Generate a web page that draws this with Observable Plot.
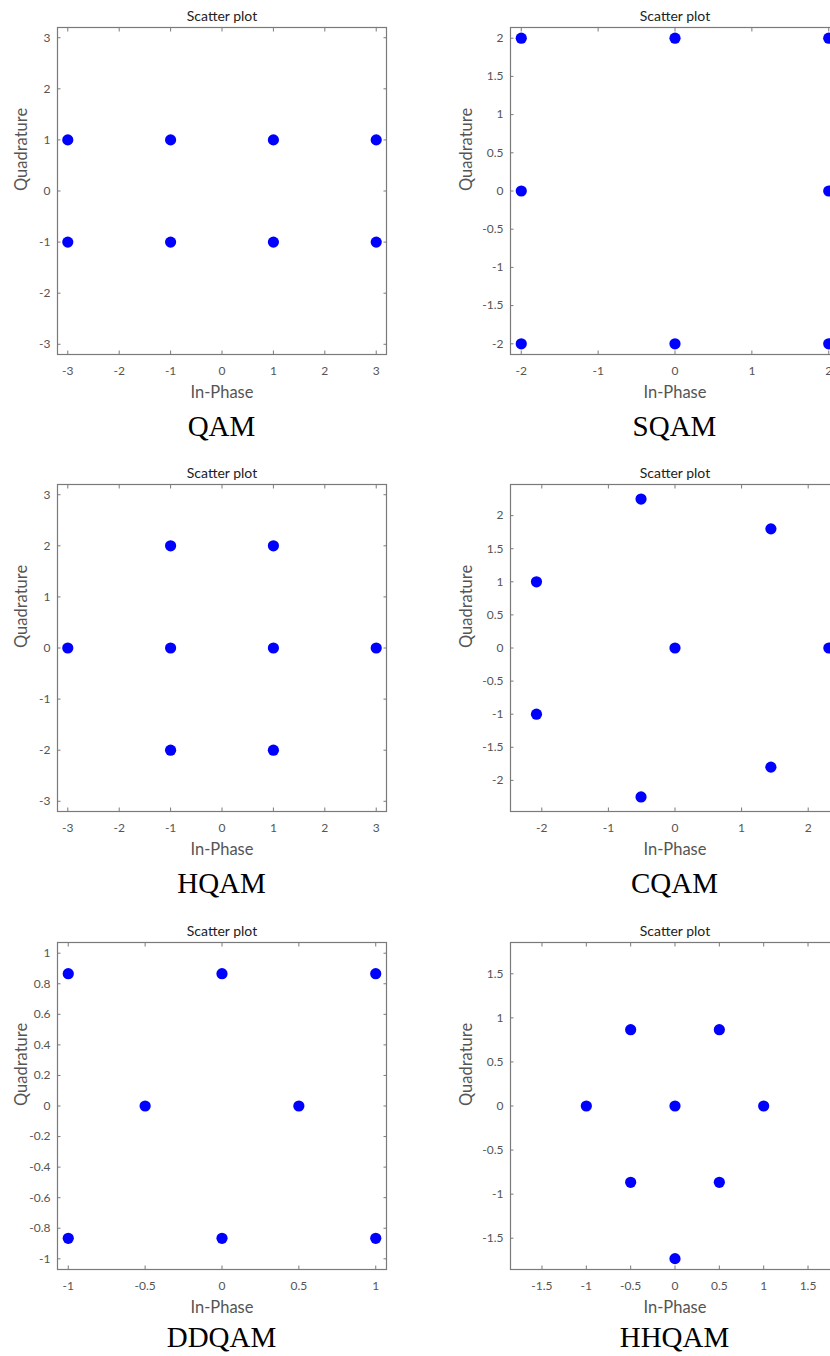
<!DOCTYPE html>
<html>
<head>
<meta charset="utf-8">
<script src="https://cdn.jsdelivr.net/npm/d3@7"></script>
<script src="https://cdn.jsdelivr.net/npm/@observablehq/plot@0.6"></script>
<style>
  html, body { margin: 0; padding: 0; background: #fff; }
  body { width: 830px; height: 1356px; overflow: hidden; }
  #grid { position: relative; width: 900px; height: 1356px; }
  .panel { position: absolute; }
  .panel svg { display: block; }
  .caption {
    position: absolute; left: 0; width: 100%;
    font-family: "Liberation Serif", "Times New Roman", serif;
    font-size: 29px; color: #000; text-align: center; line-height: 1;
  }
</style>
</head>
<body>
<div id="grid"></div>
<script>
// Constellation points (In-Phase, Quadrature) for each modulation scheme
const names = ["QAM", "SQAM", "HQAM", "CQAM", "DDQAM", "HHQAM"];

const qamPoints = [[-3, 1], [-1, 1], [1, 1], [3, 1], [-3, -1], [-1, -1], [1, -1], [3, -1]];
const sqamPoints = [[-2, 2], [0, 2], [2, 2], [-2, 0], [2, 0], [-2, -2], [0, -2], [2, -2]];
const hqamPoints = [[-1, 2], [1, 2], [-3, 0], [-1, 0], [1, 0], [3, 0], [-1, -2], [1, -2]];
const cqamPoints = [[0, 0], [2.31, 0], [1.44, 1.80], [-0.51, 2.25], [-2.08, 1.0], [-2.08, -1.0], [-0.51, -2.25], [1.44, -1.80]];
const ddqamPoints = [[-1, 0.866], [0, 0.866], [1, 0.866], [-0.5, 0], [0.5, 0], [-1, -0.866], [0, -0.866], [1, -0.866]];
const hhqamPoints = [[-0.5, 0.866], [0.5, 0.866], [-1, 0], [0, 0], [1, 0], [-0.5, -0.866], [0.5, -0.866], [0, -1.732]];

// Symmetric axis limits of each plot
const limits = [3.2, 2.14, 3.2, 2.47, 1.07, 1.855];

// Tick values
const ticksInt3 = [-3, -2, -1, 0, 1, 2, 3];
const ticksInt2 = [-2, -1, 0, 1, 2];
const ticksHalf2 = [-2, -1.5, -1, -0.5, 0, 0.5, 1, 1.5, 2];
const ticksHalf1 = [-1, -0.5, 0, 0.5, 1];
const ticksFifth1 = [-1, -0.8, -0.6, -0.4, -0.2, 0, 0.2, 0.4, 0.6, 0.8, 1];
const ticksHalf15 = [-1.5, -1, -0.5, 0, 0.5, 1, 1.5];

const xTicks = [ticksInt3, ticksInt2, ticksInt3, ticksInt2, ticksHalf1, ticksHalf15];
const yTicks = [ticksInt3, ticksHalf2, ticksInt3, ticksHalf2, ticksFifth1, ticksHalf15];
const pointSets = [qamPoints, sqamPoints, hqamPoints, cqamPoints, ddqamPoints, hhqamPoints];

// Layout of the 3 x 2 grid
const ML = 57, MR = 20, MT = 27, MB = 90, FW = 329, FH = 327;
const colLeft = [0, 453];
const rowTop = [0, 457, 915];
const ylabelDx = [-36, -44];
const captionOffset = [72, 72, 68];

const axisGray = "#7a7a7a";
const textGray = "#555";
const fmt = d => String(d);

function panel(i) {
  const lim = limits[i];
  const col = i % 2;
  const tickStyle = {tickSize: -3.5, fill: "none", stroke: axisGray, strokeWidth: 1};
  return Plot.plot({
    width: ML + FW + MR,
    height: MT + FH + MB,
    marginLeft: ML, marginRight: MR, marginTop: MT, marginBottom: MB,
    style: {fontFamily: "Lato, 'Open Sans', sans-serif", fontSize: "12px", color: textGray, background: "white", overflow: "visible"},
    x: {domain: [-lim, lim]},
    y: {domain: [-lim, lim]},
    marks: [
      Plot.frame({stroke: axisGray, strokeWidth: 1.2}),
      // inward tick marks on all four sides
      Plot.axisX(xTicks[i], {anchor: "bottom", ...tickStyle}),
      Plot.axisX(xTicks[i], {anchor: "top", ...tickStyle}),
      Plot.axisY(yTicks[i], {anchor: "left", ...tickStyle}),
      Plot.axisY(yTicks[i], {anchor: "right", ...tickStyle}),
      // tick labels
      Plot.axisX(xTicks[i], {anchor: "bottom", tickSize: 0, tickPadding: 12, tickFormat: fmt, label: null, fill: textGray}),
      Plot.axisY(yTicks[i], {anchor: "left", tickSize: 0, tickPadding: 7, tickFormat: fmt, label: null, fill: textGray}),
      // constellation symbols
      Plot.dot(pointSets[i], {x: d => d[0], y: d => d[1], r: 5.6, fill: "#0000ff", stroke: "none"}),
      // title and axis labels
      Plot.text(["Scatter plot"], {frameAnchor: "top", dy: -11, lineAnchor: "middle", fontSize: 14, fill: "#222"}),
      Plot.text(["In-Phase"], {frameAnchor: "bottom", dy: 38.5, lineAnchor: "middle", fontSize: 16.5, fill: textGray}),
      Plot.text(["Quadrature"], {frameAnchor: "left", dx: ylabelDx[col], rotate: -90, lineAnchor: "middle", fontSize: 16.5, fill: textGray})
    ]
  });
}

const grid = document.getElementById("grid");
names.forEach((name, i) => {
  const row = Math.floor(i / 2), col = i % 2;
  const div = document.createElement("div");
  div.className = "panel";
  div.style.left = colLeft[col] + "px";
  div.style.top = rowTop[row] + "px";
  div.style.width = (ML + FW + MR) + "px";
  div.appendChild(panel(i));
  const cap = document.createElement("div");
  cap.className = "caption";
  cap.textContent = name;
  cap.style.left = ML + "px";
  cap.style.width = FW + "px";
  cap.style.top = (MT + FH + captionOffset[row] - 14.5) + "px";
  div.appendChild(cap);
  grid.appendChild(div);
});
</script>
</body>
</html>
